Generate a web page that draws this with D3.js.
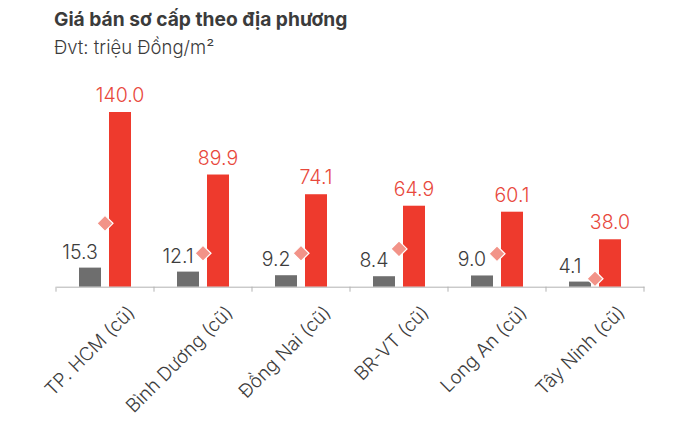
<!DOCTYPE html>
<html>
<head>
<meta charset="utf-8">
<script src="https://cdn.jsdelivr.net/npm/d3@7"></script>
<style>
  html, body { margin: 0; padding: 0; background: #fff; }
  svg { display: block; }
</style>
</head>
<body>
<svg id="chart" width="700" height="426"></svg>
<script>
const categories = ["TP. HCM (cũ)", "Bình Dương (cũ)", "Đồng Nai (cũ)", "BR-VT (cũ)", "Long An (cũ)", "Tây Ninh (cũ)"];
const grayValues = [15.3, 12.1, 9.2, 8.4, 9.0, 4.1];
const redValues = [140.0, 89.9, 74.1, 64.9, 60.1, 38.0];
const diamondValues = [50.8, 26.8, 26.8, 30.3, 26.4, 6.4];
const titleText = "Giá bán sơ cấp theo địa phương";
const subtitleText = "Đvt: triệu Đồng/m²";

const FONT = "Inter, Lato, sans-serif";
const svg = d3.select("#chart");

const x = d3.scaleBand().domain(categories).range([56, 644]).padding(0);
const y = d3.scaleLinear().domain([0, 140]).range([286.7, 112]);

const barW = 22, gap = 4;

// title
svg.append("text").attr("x", 54).attr("y", 26)
  .attr("font-family", FONT).attr("font-weight", 700).attr("font-size", 19.2)
  .attr("fill", "#3b3b3b").text(titleText);
svg.append("text").attr("x", 54).attr("y", 53.5)
  .attr("font-family", FONT).attr("font-weight", 300).attr("font-size", 18.5)
  .attr("fill", "#3b3b3b").text(subtitleText);

const g = svg.append("g");

// gray bars
g.selectAll(".gbar").data(categories).join("rect")
  .attr("x", d => x(d) + x.bandwidth() / 2 - gap - barW)
  .attr("width", barW)
  .attr("y", (d, i) => y(grayValues[i]))
  .attr("height", (d, i) => y(0) - y(grayValues[i]))
  .attr("fill", "#6e6e6e");

// red bars
g.selectAll(".rbar").data(categories).join("rect")
  .attr("x", d => x(d) + x.bandwidth() / 2 + gap)
  .attr("width", barW)
  .attr("y", (d, i) => y(redValues[i]))
  .attr("height", (d, i) => y(0) - y(redValues[i]))
  .attr("fill", "#ee3a2d");

// diamonds
const dsz = 8;
g.selectAll(".dia").data(categories).join("path")
  .attr("d", `M0,${-dsz}L${dsz},0L0,${dsz}L${-dsz},0Z`)
  .attr("transform", (d, i) => `translate(${x(d) + x.bandwidth() / 2},${y(diamondValues[i])})`)
  .attr("fill", "#f29388")
  .attr("stroke", "#fff").attr("stroke-width", 1.2);

// gray labels
g.selectAll(".glab").data(categories).join("text")
  .attr("x", d => x(d) + x.bandwidth() / 2 - gap - barW / 2 - 10)
  .attr("y", (d, i) => y(grayValues[i]) - 9)
  .attr("text-anchor", "middle")
  .attr("font-family", FONT).attr("font-weight", 300).attr("font-size", 19.5)
  .attr("fill", "#3d3d3d")
  .text((d, i) => grayValues[i].toFixed(1));

// red labels
g.selectAll(".rlab").data(categories).join("text")
  .attr("x", d => x(d) + x.bandwidth() / 2 + gap + barW / 2)
  .attr("y", (d, i) => y(redValues[i]) - 10)
  .attr("text-anchor", "middle")
  .attr("font-family", FONT).attr("font-weight", 300).attr("font-size", 19.5)
  .attr("fill", "#e8483c")
  .text((d, i) => redValues[i].toFixed(1));

// axis
const axis = d3.axisBottom(x).tickSize(0).tickFormat("");
const ax = svg.append("g").attr("transform", `translate(0,${y(0)})`).call(axis);
ax.select(".domain").attr("stroke", "#b3b3b3").attr("stroke-width", 1);
const bounds = categories.map(d => x(d)).concat([x.range()[1]]);
ax.selectAll(".btick").data(bounds).join("line")
  .attr("x1", d => d).attr("x2", d => d).attr("y1", 0).attr("y2", 5)
  .attr("stroke", "#b3b3b3");

// category labels
svg.append("g").selectAll("text").data(categories).join("text")
  .attr("transform", d => `translate(${x(d) + x.bandwidth() / 2 + 31},${y(0) + 27}) rotate(-45)`)
  .attr("text-anchor", "end")
  .attr("font-family", FONT).attr("font-weight", 300).attr("font-size", 18.8)
  .attr("fill", "#3d3d3d")
  .text(d => d);
</script>
</body>
</html>
